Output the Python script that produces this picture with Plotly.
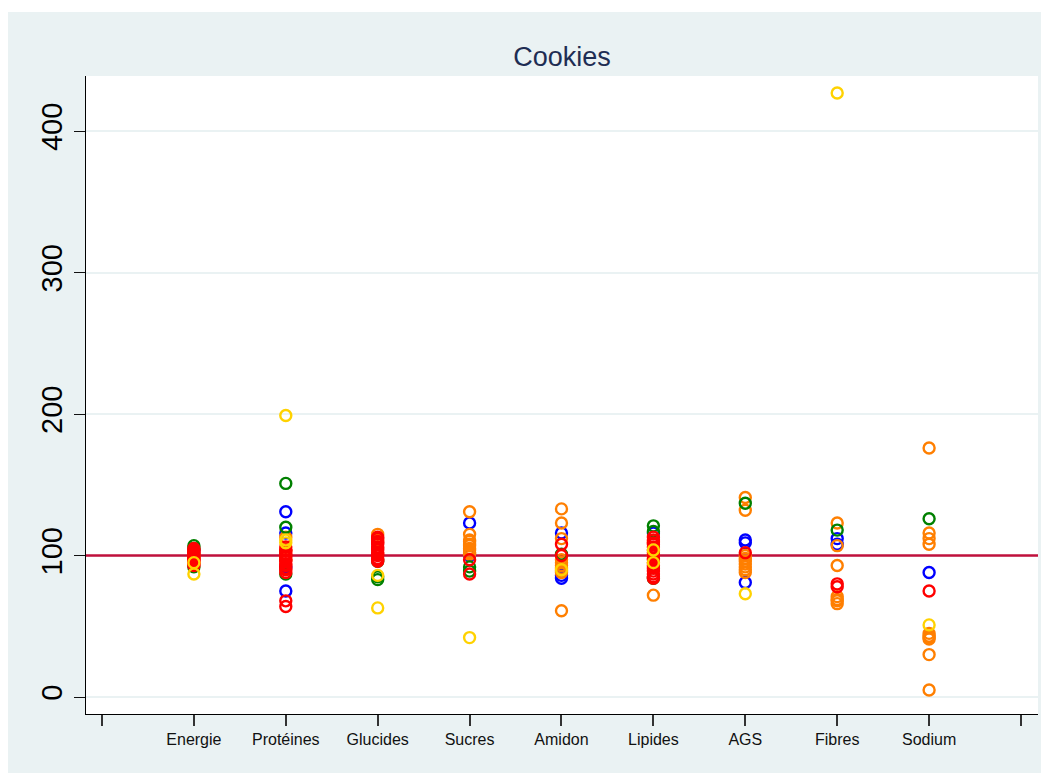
import plotly.graph_objects as go

categories = ["Energie", "Protéines", "Glucides", "Sucres", "Amidon", "Lipides", "AGS", "Fibres", "Sodium"]

# values per group (colour) per nutrient column
blue_vals = {
    "Energie": [104],
    "Protéines": [131, 116, 92, 75],
    "Glucides": [],
    "Sucres": [123, 100],
    "Amidon": [116, 86, 84],
    "Lipides": [116],
    "AGS": [111, 109, 81],
    "Fibres": [112, 108],
    "Sodium": [88],
}
orange_vals = {
    "Energie": [100, 98],
    "Protéines": [113, 104, 97],
    "Glucides": [115, 111],
    "Sucres": [131, 115, 111, 110, 108, 107, 105, 104, 102, 101],
    "Amidon": [133, 123, 112, 97, 95, 93, 91, 89, 88, 61],
    "Lipides": [110, 100, 72],
    "AGS": [141, 132, 100, 98, 96, 94, 92, 90, 88],
    "Fibres": [123, 107, 93, 71, 69, 68, 66],
    "Sodium": [176, 116, 112, 108, 45, 43, 42, 41, 30, 5],
}
green_vals = {
    "Energie": [107, 105, 92],
    "Protéines": [151, 120, 87],
    "Glucides": [96, 85, 83],
    "Sucres": [92, 89],
    "Amidon": [101],
    "Lipides": [121, 117, 84],
    "AGS": [137],
    "Fibres": [118],
    "Sodium": [126],
}
red_vals = {
    "Energie": [105, 104, 103, 102, 101, 100, 99, 98, 97, 96, 95, 94, 93],
    "Protéines": [106, 104, 103, 101, 100, 99, 97, 96, 94, 93, 91, 90, 88, 68, 64],
    "Glucides": [113, 112, 110, 109, 108, 106, 105, 104, 102, 101, 100, 98, 97, 96],
    "Sucres": [97, 87],
    "Amidon": [108, 100],
    "Lipides": [113, 111, 109, 108, 106, 104, 102, 100, 98, 97, 95, 93, 91, 89, 87, 85, 84],
    "AGS": [102],
    "Fibres": [80, 78],
    "Sodium": [75],
}
yellow_vals = {
    "Energie": [95, 87],
    "Protéines": [199, 111, 109],
    "Glucides": [86, 63],
    "Sucres": [42],
    "Amidon": [90],
    "Lipides": [104, 95],
    "AGS": [73],
    "Fibres": [427],
    "Sodium": [51],
}

reference_value = 100
y_ticks = [0, 100, 200, 300, 400]
x_range = [-0.174, 10.185]
y_range = [-12, 439]

groups = [
    (blue_vals, "#0000FF"),
    (orange_vals, "#FF7F00"),
    (green_vals, "#008000"),
    (red_vals, "#FF0000"),
    (yellow_vals, "#FFD200"),
]

fig = go.Figure()

# reference line at 100
fig.add_trace(go.Scatter(
    x=x_range, y=[reference_value, reference_value], mode="lines",
    line=dict(color="#C0103C", width=2.6), hoverinfo="skip", showlegend=False,
))

for vals, color in groups:
    xs, ys = [], []
    for i, cat in enumerate(categories):
        for v in vals[cat]:
            xs.append(i + 1)
            ys.append(v)
    fig.add_trace(go.Scatter(
        x=xs, y=ys, mode="markers", showlegend=False,
        marker=dict(symbol="circle-open", size=11, color=color,
                    line=dict(color=color, width=2.4)),
    ))

fig.update_layout(
    width=1041, height=766,
    margin=dict(l=78, r=11, t=68, b=60),
    paper_bgcolor="white",
    plot_bgcolor="white",
    font=dict(family="Liberation Sans, Arial, sans-serif", color="#000000"),
    title=dict(text="Cookies", x=0.5, xref="paper", xanchor="center",
               y=0.936, yanchor="middle", yref="container",
               font=dict(size=27, color="#1E2D53")),
    shapes=[
        dict(type="rect", xref="paper", yref="paper", x0=-0.0819, x1=1.0116,
             y0=-0.0925, y1=1.1003, fillcolor="#EAF2F3", line=dict(width=0), layer="below"),
        dict(type="rect", xref="paper", yref="paper", x0=0, x1=1, y0=0, y1=1,
             fillcolor="white", line=dict(width=0), layer="below"),
    ],
)

fig.update_xaxes(
    range=x_range, tickvals=list(range(0, 11)),
    ticktext=[""] + categories + [""],
    showgrid=False, zeroline=False,
    showline=True, linecolor="#000000", linewidth=1.2,
    ticks="outside", ticklen=11, tickwidth=1.5, tickcolor="#333333",
    tickfont=dict(size=16, color="#111111"),
)
fig.update_yaxes(
    range=y_range, tickvals=y_ticks, tickangle=-90,
    showgrid=True, gridcolor="#EAF2F3", gridwidth=2, zeroline=False,
    showline=True, linecolor="#000000", linewidth=1.2,
    ticks="outside", ticklen=11, tickwidth=1.2, tickcolor="#111111",
    tickfont=dict(size=29, color="#000000"),
)

fig.write_html("out.html")
